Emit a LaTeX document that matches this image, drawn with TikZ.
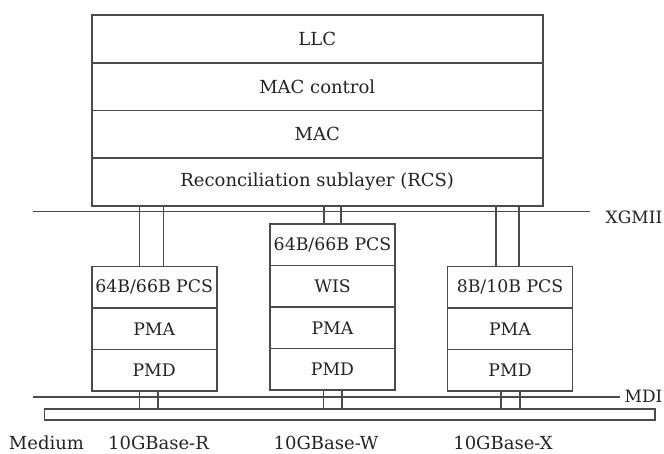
\documentclass[tikz,border=0pt]{standalone}
\usepackage{fontspec}
\setmainfont{DejaVu Serif}
\definecolor{lncol}{RGB}{75,75,75}
\definecolor{txtcol}{RGB}{35,35,35}
\begin{document}
\begin{tikzpicture}[x=1pt,y=-1pt,
  ln/.style={draw=lncol, line width=1.6pt},
  layer/.style={ln, rectangle, outer sep=0pt, inner sep=0pt, text=txtcol,
    font=\fontsize{18}{20}\selectfont, anchor=north west},
  toplayer/.style={layer, minimum width=451pt, minimum height=47.75pt},
  stk/.style={layer, minimum width=125pt, minimum height=41.5pt,
    font=\fontsize{17.3}{20}\selectfont},
  lbl/.style={text=txtcol, font=\fontsize{18}{20}\selectfont, inner sep=0pt},
  sidelbl/.style={lbl, font=\fontsize{17}{20}\selectfont, anchor=west}]
\useasboundingbox (0,0) rectangle (664,454);
% top stack
\node[toplayer] (llc) at (91.7,15) {LLC};
\node[toplayer] (macc) at (llc.south west) {MAC control};
\node[toplayer] (mac) at (macc.south west) {MAC};
\node[toplayer] (rcs) at (mac.south west) {Reconciliation sublayer (RCS)};
% left stack
\node[stk] (lpcs) at (91.7,266.5) {64B/66B PCS};
\node[stk] (lpma) at (lpcs.south west) {PMA};
\node[stk] (lpmd) at (lpma.south west) {PMD};
% middle stack
\node[stk] (mpcs) at (270,224) {64B/66B PCS};
\node[stk] (mwis) at (mpcs.south west) {WIS};
\node[stk] (mpma) at (mwis.south west) {PMA};
\node[stk] (mpmd) at (mpma.south west) {PMD};
% right stack
\node[stk] (rpcs) at (447.5,266.5) {8B/10B PCS};
\node[stk] (rpma) at (rpcs.south west) {PMA};
\node[stk] (rpmd) at (rpma.south west) {PMD};
% medium bar
\node[ln, rectangle, outer sep=0pt, inner sep=0pt, anchor=north west,
  minimum width=610.7pt, minimum height=11pt] (medium) at (44.3,409) {};
% interface lines
\coordinate (xg0) at (32.7,211.7);
\coordinate (xg1) at (590,211.7);
\draw[ln] (xg0) -- (xg1);
\node[sidelbl] (xgmii) at (605.5,217) {XGMII};
\coordinate (md0) at (32.7,396.7);
\coordinate (md1) at (620,396.7);
\draw[ln] (md0) -- (md1);
\node[sidelbl] (mdi) at (624.5,396.5) {MDI};
% upper connectors
\foreach \xx/\tgt in {139.3/lpcs, 163.3/lpcs, 324/mpcs, 340.7/mpcs, 495.7/rpcs, 519/rpcs}{
  \coordinate (c) at (\xx,0);
  \draw[ln] (c |- rcs.south) -- (c |- \tgt.north);
}
% lower connectors
\foreach \xx/\src in {139.3/lpmd, 157.7/lpmd, 323.3/mpmd, 341.7/mpmd, 501/rpmd, 520/rpmd}{
  \coordinate (c) at (\xx,0);
  \draw[ln] (c |- \src.south) -- (c |- medium.north);
}
% bottom labels
\node[lbl] (lmed) at (46.5,443) {Medium};
\node[lbl] (lr) at (158.5,443) {10GBase-R};
\node[lbl] (lw) at (326,443) {10GBase-W};
\node[lbl] (lx) at (503,443) {10GBase-X};
\end{tikzpicture}
\end{document}
